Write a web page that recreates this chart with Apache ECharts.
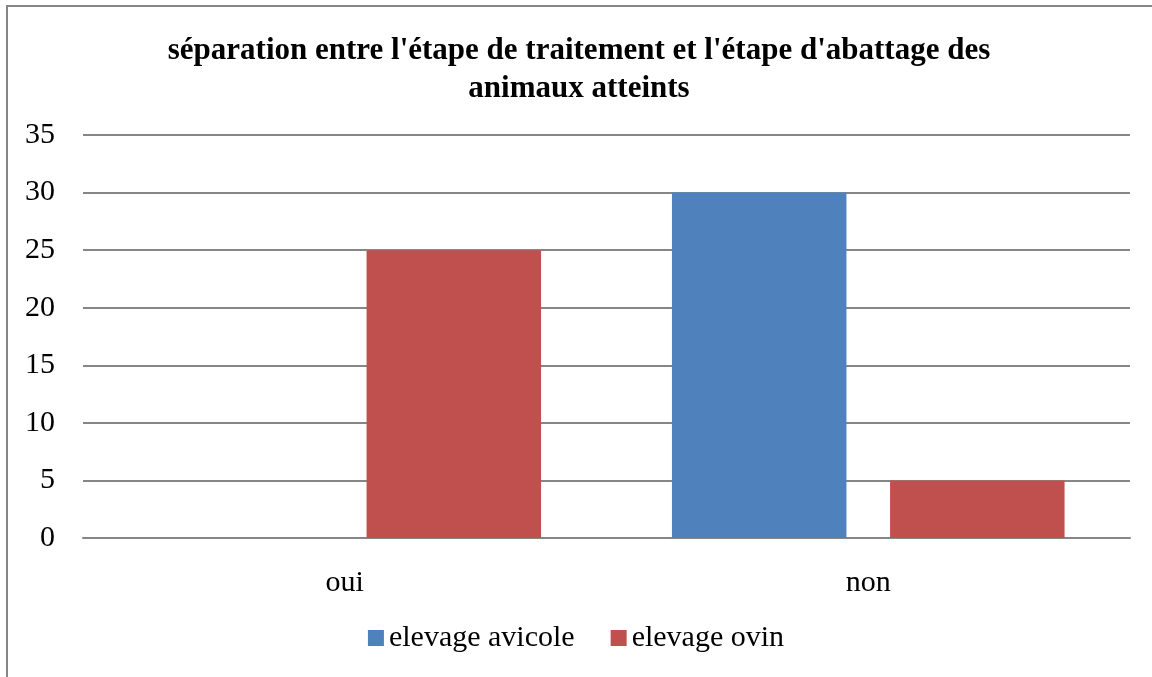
<!DOCTYPE html>
<html>
<head>
<meta charset="utf-8">
<script src="https://cdn.jsdelivr.net/npm/echarts@6/dist/echarts.min.js"></script>
<style>
  html, body { margin: 0; padding: 0; background: #fff; }
  #chart { width: 1152px; height: 677px; }
</style>
</head>
<body>
<div id="chart"></div>
<script>
const categories = ['oui', 'non'];
const avicole = [0, 30];
const ovin = [25, 5];
const seriesNames = ['elevage avicole', 'elevage ovin'];

const chart = echarts.init(document.getElementById('chart'));
const font = '"Liberation Serif", "Times New Roman", serif';

chart.setOption({
    animation: false,
    backgroundColor: '#ffffff',
    graphic: [{
        type: 'rect',
        shape: { x: 7, y: 6, width: 1170, height: 700 },
        style: { fill: 'none', stroke: '#868686', lineWidth: 2 }
    }],
    title: {
        text: "séparation entre l'étape de traitement et l'étape d'abattage des\nanimaux atteints",
        left: 574,
        top: 27,
        textAlign: 'center',
        textStyle: {
            fontFamily: font,
            fontWeight: 'bold',
            fontSize: 31,
            lineHeight: 38,
            color: '#000'
        }
    },
    legend: {
        data: seriesNames,
        bottom: 19,
        left: 'center',
        itemWidth: 16,
        itemHeight: 16,
        itemGap: 36,
        icon: 'rect',
        textStyle: { fontFamily: font, fontSize: 30, color: '#000' }
    },
    grid: { left: 83, right: 22, top: 135, bottom: 139 },
    xAxis: {
        type: 'category',
        data: categories,
        axisTick: { show: false },
        axisLine: { lineStyle: { color: '#868686', width: 2 } },
        axisLabel: { fontFamily: font, fontSize: 30, color: '#000', margin: 30 }
    },
    yAxis: {
        type: 'value',
        min: 0,
        max: 35,
        interval: 5,
        axisLine: { show: false },
        axisTick: { show: false },
        splitLine: { lineStyle: { color: '#868686', width: 2 } },
        axisLabel: { fontFamily: font, fontSize: 30, color: '#000', margin: 28 }
    },
    series: [
        {
            name: seriesNames[0],
            type: 'bar',
            data: avicole,
            barGap: '25%',
            barCategoryGap: '25%',
            itemStyle: { color: '#4F81BD' }
        },
        {
            name: seriesNames[1],
            type: 'bar',
            data: ovin,
            itemStyle: { color: '#C0504D' }
        }
    ]
});
window.addEventListener('resize', () => chart.resize());
</script>
</body>
</html>
